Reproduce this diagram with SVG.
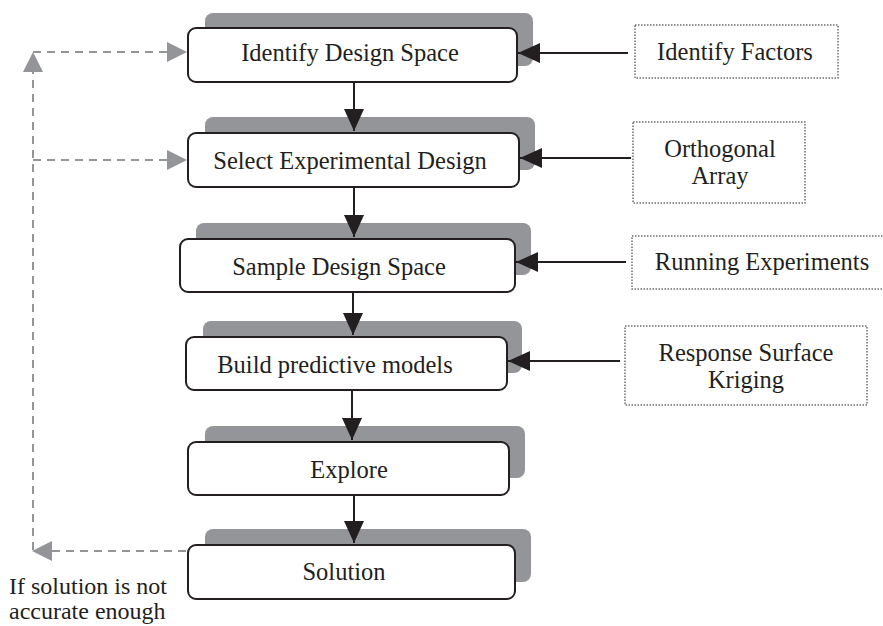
<svg xmlns="http://www.w3.org/2000/svg" width="883" height="626" viewBox="0 0 883 626">
<defs>
<style>
.shadow{fill:#939598;}
.box{fill:#ffffff;stroke:#231f20;stroke-width:2;}
.note{fill:#ffffff;stroke:#6d6e71;stroke-width:1.5;stroke-dasharray:1.5 1.5;}
.t{font-family:"Liberation Serif","Times New Roman",serif;font-size:24.5px;fill:#231f20;text-anchor:middle;}
.tl{font-family:"Liberation Serif","Times New Roman",serif;font-size:24px;fill:#231f20;}
.arrow{stroke:#231f20;stroke-width:2;fill:none;marker-end:url(#ah);}
.dash{stroke:#939598;stroke-width:2;fill:none;stroke-dasharray:8 6;}
.gah{fill:#939598;}
</style>
<marker id="ah" markerUnits="userSpaceOnUse" markerWidth="22" markerHeight="20" refX="22" refY="10" orient="auto" viewBox="0 0 22 20">
<path d="M0,0 L22,10 L0,20 z" fill="#231f20"/>
</marker>
</defs>

<g id="step1">
<rect class="shadow" x="205" y="13" width="328" height="53" rx="8"/>
<rect class="box" x="188" y="28" width="329" height="54" rx="8"/>
<text class="t" x="350" y="61">Identify Design Space</text>
</g>
<g id="step2">
<rect class="shadow" x="205" y="117" width="330" height="53" rx="8"/>
<rect class="box" x="188" y="133" width="331" height="54" rx="8"/>
<text class="t" x="350" y="169">Select Experimental Design</text>
</g>
<g id="step3">
<rect class="shadow" x="196" y="223" width="335" height="52" rx="8"/>
<rect class="box" x="180" y="239" width="335" height="53" rx="8"/>
<text class="t" x="339" y="275">Sample Design Space</text>
</g>
<g id="step4">
<rect class="shadow" x="203" y="321" width="319" height="52" rx="8"/>
<rect class="box" x="186" y="337" width="321" height="53" rx="8"/>
<text class="t" x="335" y="373">Build predictive models</text>
</g>
<g id="step5">
<rect class="shadow" x="205" y="426" width="320" height="52" rx="8"/>
<rect class="box" x="188" y="442" width="321" height="53" rx="8"/>
<text class="t" x="349" y="478">Explore</text>
</g>
<g id="step6">
<rect class="shadow" x="205" y="529" width="326" height="53" rx="8"/>
<rect class="box" x="188" y="545" width="327" height="54" rx="8"/>
<text class="t" x="344" y="580">Solution</text>
</g>

<g id="input1">
<rect class="note" x="635" y="25" width="203" height="53"/>
<text class="t" x="735" y="60">Identify Factors</text>
</g>
<g id="input2">
<rect class="note" x="633" y="122" width="172" height="81"/>
<text class="t" x="720" y="157">Orthogonal</text>
<text class="t" x="720" y="184">Array</text>
</g>
<g id="input3">
<rect class="note" x="632" y="236" width="262" height="53"/>
<text class="t" x="762" y="270">Running Experiments</text>
</g>
<g id="input4">
<rect class="note" x="625" y="326" width="242" height="79"/>
<text class="t" x="746" y="361">Response Surface</text>
<text class="t" x="746" y="388">Kriging</text>
</g>

<g id="note">
<text class="tl" x="9" y="594">If solution is not</text>
<text class="tl" x="9" y="619">accurate enough</text>
</g>

<g id="connectors">
<line class="arrow" x1="354" y1="82" x2="354" y2="131"/>
<line class="arrow" x1="354" y1="187" x2="354" y2="237"/>
<line class="arrow" x1="353" y1="292" x2="353" y2="335"/>
<line class="arrow" x1="352" y1="390" x2="352" y2="440"/>
<line class="arrow" x1="354" y1="495" x2="354" y2="543"/>

<line class="arrow" x1="628" y1="53" x2="518" y2="53"/>
<line class="arrow" x1="631" y1="158" x2="520" y2="158"/>
<line class="arrow" x1="626" y1="262" x2="516" y2="262"/>
<line class="arrow" x1="620" y1="361" x2="508" y2="361"/>

<path class="dash" d="M186,551 L52,551"/>
<polygon class="gah" points="32,551 52,541 52,561"/>
<path class="dash" d="M33,550 L33,72"/>
<polygon class="gah" points="33,52 23,72 43,72"/>
<path class="dash" d="M33,52 L167,52"/>
<polygon class="gah" points="187,52 167,42 167,62"/>
<path class="dash" d="M33,160 L167,160"/>
<polygon class="gah" points="187,160 167,150 167,170"/>
</g>
</svg>
